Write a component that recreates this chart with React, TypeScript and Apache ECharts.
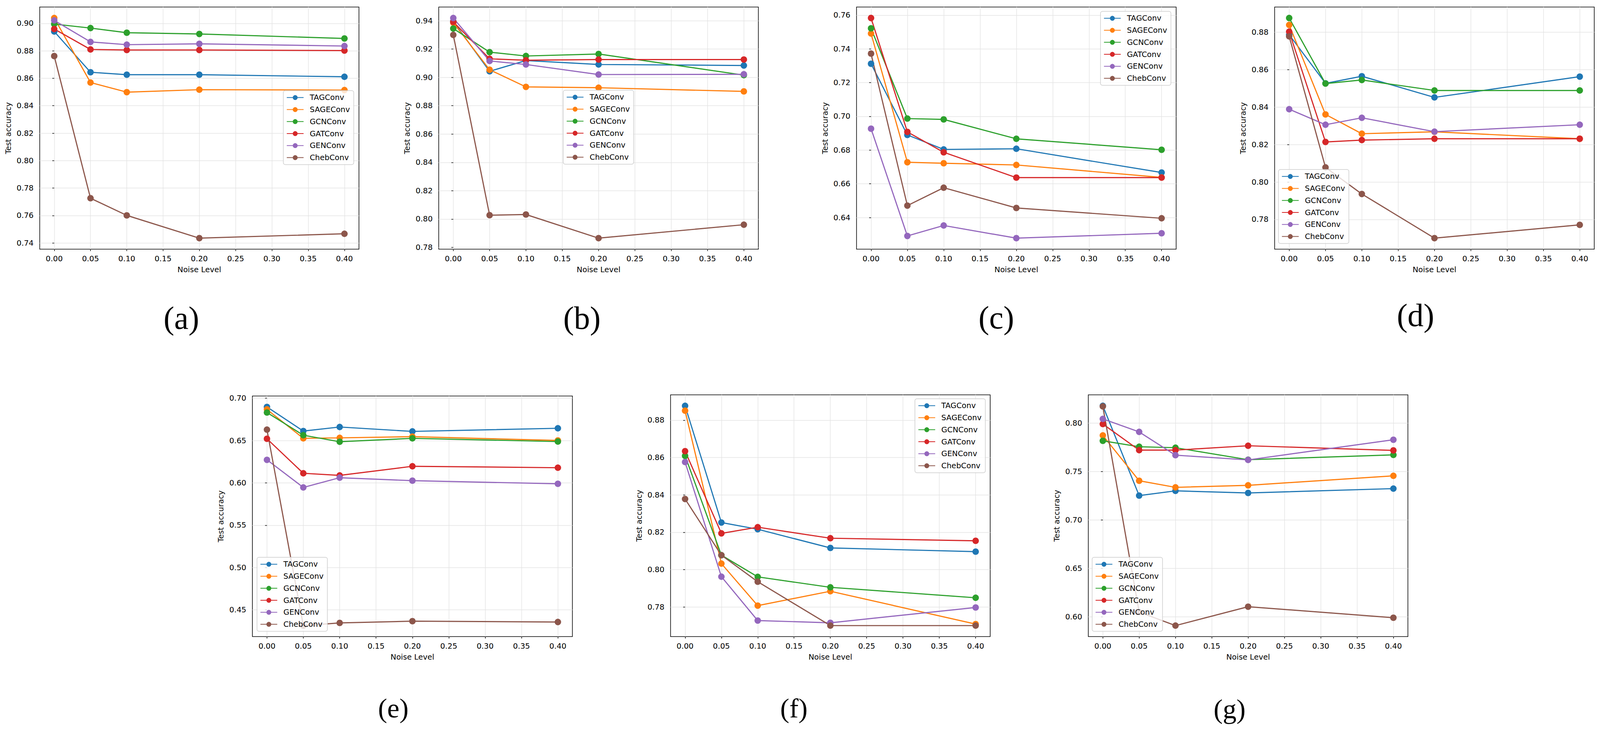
import React, { useEffect, useRef } from 'react';
import * as echarts from 'echarts';

const FONT = '"DejaVu Sans", sans-serif';
const SERIF = '"Liberation Serif", "Times New Roman", serif';

const models = ['TAGConv', 'SAGEConv', 'GCNConv', 'GATConv', 'GENConv', 'ChebConv'];
const colors = ['#1f77b4', '#ff7f0e', '#2ca02c', '#d62728', '#9467bd', '#8c564b'];
const noiseLevels = [0, 0.05, 0.1, 0.2, 0.4];
const noiseTicks = [0, 0.05, 0.1, 0.15, 0.2, 0.25, 0.3, 0.35, 0.4];

// one row per model, same order as `models`
const accA = [
  [0.8941, 0.8644, 0.8626, 0.8626, 0.8611],
  [0.9039, 0.8569, 0.8499, 0.8517, 0.8514],
  [0.8995, 0.8966, 0.8932, 0.8923, 0.889],
  [0.8959, 0.881, 0.8806, 0.8806, 0.8802],
  [0.9022, 0.8865, 0.8845, 0.8851, 0.8835],
  [0.8762, 0.7726, 0.7601, 0.7435, 0.7467],
];
const accB = [
  [0.9395, 0.9043, 0.9119, 0.9091, 0.9084],
  [0.9386, 0.9054, 0.8933, 0.8927, 0.8901],
  [0.9345, 0.9178, 0.9151, 0.9165, 0.9016],
  [0.9392, 0.9131, 0.9121, 0.9126, 0.9126],
  [0.9419, 0.9116, 0.9091, 0.902, 0.9022],
  [0.93, 0.8027, 0.8032, 0.7865, 0.796],
];
const accC = [
  [0.7312, 0.689, 0.6804, 0.6808, 0.6667],
  [0.7491, 0.6728, 0.6722, 0.6712, 0.6638],
  [0.7522, 0.6987, 0.6982, 0.6867, 0.6802],
  [0.7583, 0.6908, 0.6787, 0.6637, 0.6637],
  [0.6927, 0.6291, 0.6353, 0.6278, 0.6307],
  [0.7372, 0.6471, 0.6577, 0.6457, 0.6396],
];
const accD = [
  [0.8787, 0.8527, 0.8565, 0.8452, 0.8563],
  [0.8839, 0.8361, 0.8258, 0.8268, 0.8231],
  [0.8876, 0.8526, 0.8545, 0.8489, 0.8489],
  [0.8803, 0.8214, 0.8224, 0.8231, 0.8231],
  [0.8389, 0.8306, 0.8343, 0.8269, 0.8306],
  [0.8778, 0.8078, 0.7936, 0.77, 0.7771],
];
const accE = [
  [0.6897, 0.6612, 0.666, 0.6608, 0.6645],
  [0.6868, 0.6526, 0.6532, 0.6546, 0.6501],
  [0.6831, 0.6563, 0.6486, 0.6526, 0.6488],
  [0.6521, 0.6113, 0.6088, 0.6196, 0.6179],
  [0.6272, 0.5946, 0.6061, 0.6026, 0.5989],
  [0.6629, 0.4313, 0.4345, 0.4366, 0.4356],
];
const accF = [
  [0.8877, 0.8252, 0.8216, 0.8116, 0.8096],
  [0.8851, 0.8032, 0.7807, 0.7884, 0.7708],
  [0.8609, 0.8077, 0.7961, 0.7905, 0.7849],
  [0.8634, 0.8194, 0.8227, 0.8168, 0.8154],
  [0.8576, 0.7962, 0.7727, 0.7715, 0.7797],
  [0.8378, 0.8077, 0.7935, 0.77, 0.77],
];
const accG = [
  [0.8177, 0.7251, 0.73, 0.7278, 0.7323],
  [0.7872, 0.7404, 0.7336, 0.7357, 0.7455],
  [0.7816, 0.7755, 0.7745, 0.7621, 0.7671],
  [0.7989, 0.772, 0.772, 0.7765, 0.7717],
  [0.8042, 0.7908, 0.7668, 0.7619, 0.7827],
  [0.8171, 0.605, 0.591, 0.6105, 0.5991],
];

const ticksA = [0.74, 0.76, 0.78, 0.8, 0.82, 0.84, 0.86, 0.88, 0.9];
const ticksB = [0.78, 0.8, 0.82, 0.84, 0.86, 0.88, 0.9, 0.92, 0.94];
const ticksC = [0.64, 0.66, 0.68, 0.7, 0.72, 0.74, 0.76];
const ticksD = [0.78, 0.8, 0.82, 0.84, 0.86, 0.88];
const ticksE = [0.45, 0.5, 0.55, 0.6, 0.65, 0.7];
const ticksF = [0.78, 0.8, 0.82, 0.84, 0.86, 0.88];
const ticksG = [0.6, 0.65, 0.7, 0.75, 0.8];

// layout in reference pixels (4190 x 1882 page)
const panels = [
  { acc: accA, ticks: ticksA, tag: '(a)', grid: [104, 18, 836, 620], legend: [742, 232], tagPos: [475, 814, 84] },
  { acc: accB, ticks: ticksB, tag: '(b)', grid: [1149, 18, 837, 620], legend: [1475, 231], tagPos: [1524, 814, 84] },
  { acc: accC, ticks: ticksC, tag: '(c)', grid: [2243, 18, 837, 620], legend: [2882, 29], tagPos: [2609, 813, 84] },
  { acc: accD, ticks: ticksD, tag: '(d)', grid: [3338, 18, 837, 620], legend: [3348, 434], tagPos: [3707, 807, 84] },
  { acc: accE, ticks: ticksE, tag: '(e)', grid: [661, 1014, 838, 616], legend: [673, 1427], tagPos: [1030, 1813, 72] },
  { acc: accF, ticks: ticksF, tag: '(f)', grid: [1756, 1011, 837, 619], legend: [2396, 1021], tagPos: [2079, 1813, 72] },
  { acc: accG, ticks: ticksG, tag: '(g)', grid: [2850, 1011, 837, 619], legend: [2860, 1427], tagPos: [3220, 1815, 72] },
];

// matplotlib-style 5% margins around the data
const limits = (acc: number[][]) => {
  const all = acc.flat();
  const lo = Math.min(...all);
  const hi = Math.max(...all);
  const pad = (hi - lo) * 0.05;
  return [lo - pad, hi + pad];
};

const App: React.FC = () => {
  const chartRef = useRef<HTMLDivElement>(null);

  useEffect(() => {
    document.body.style.margin = '0';
    document.body.style.overflow = 'hidden';
    const el = chartRef.current!;
    // the viewport may be a bit smaller than the reference, so scale the layout to it
    const W = el.clientWidth || 4190;
    const H = el.clientHeight || 1882;
    const sx = W / 4190;
    const sy = H / 1882;
    const sf = Math.min(sx, sy);
    const X = (v: number) => v * sx;
    const Y = (v: number) => v * sy;
    const F = (v: number) => v * sf;

    const chart = echarts.init(el, null, { renderer: 'svg', width: W, height: H });

    const tickText = { fontSize: F(20), color: '#000', fontFamily: FONT };
    const gridLine = { show: true, lineStyle: { color: '#e4e4e4', width: F(1.5) } };
    const tickLine = { color: '#000', width: F(1.5) };

    const option = {
      animation: false,
      backgroundColor: '#ffffff',
      textStyle: { fontFamily: FONT },
      grid: panels.map((p) => ({
        left: X(p.grid[0]),
        top: Y(p.grid[1]),
        width: X(p.grid[2]),
        height: Y(p.grid[3]),
        show: true,
        borderColor: '#000',
        borderWidth: F(1.6),
        backgroundColor: 'transparent',
        containLabel: false,
        outerBoundsMode: 'none',
      })),
      xAxis: panels.map((p, i) => ({
        type: 'value',
        gridIndex: i,
        min: -0.02,
        max: 0.42,
        name: 'Noise Level',
        nameLocation: 'middle',
        nameGap: Y(42),
        nameTextStyle: tickText,
        axisLine: { show: false },
        axisTick: { show: true, length: Y(5), customValues: noiseTicks, lineStyle: tickLine },
        axisLabel: {
          customValues: noiseTicks,
          margin: Y(14),
          formatter: (v: number) => v.toFixed(2),
          ...tickText,
        },
        splitLine: gridLine,
      })),
      yAxis: panels.map((p, i) => {
        const [lo, hi] = limits(p.acc);
        return {
          type: 'value',
          gridIndex: i,
          min: lo,
          max: hi,
          name: 'Test accuracy',
          nameLocation: 'middle',
          nameGap: X(72),
          nameTextStyle: tickText,
          axisLine: { show: false },
          axisTick: { show: true, length: X(5), customValues: p.ticks, lineStyle: tickLine },
          axisLabel: {
            customValues: p.ticks,
            margin: X(16),
            formatter: (v: number) => v.toFixed(2),
            ...tickText,
          },
          splitLine: gridLine,
        };
      }),
      legend: panels.map((p) => ({
        data: models,
        orient: 'vertical',
        left: X(p.legend[0]),
        top: Y(p.legend[1]),
        itemWidth: F(44),
        itemHeight: F(16),
        itemGap: F(11),
        padding: [F(8), F(10), F(8), F(8)],
        backgroundColor: 'rgba(255,255,255,0.8)',
        borderColor: '#cccccc',
        borderWidth: F(1.5),
        borderRadius: F(5),
        selectedMode: false,
        formatter: '{gap|}{name}',
        textStyle: { ...tickText, rich: { gap: { width: F(11) } } },
      })),
      graphic: panels.map((p) => ({
        type: 'text',
        x: X(p.tagPos[0]),
        y: Y(p.tagPos[1]),
        style: {
          text: p.tag,
          fontSize: F(p.tagPos[2]),
          fontFamily: SERIF,
          fill: '#000',
          align: 'center',
          verticalAlign: 'middle',
          textAlign: 'center',
          textVerticalAlign: 'middle',
        },
      })),
      series: panels.flatMap((p, pi) =>
        models.map((m, k) => ({
          name: m,
          type: 'line',
          xAxisIndex: pi,
          yAxisIndex: pi,
          data: noiseLevels.map((x, i) => [x, p.acc[k][i]]),
          symbol: 'circle',
          symbolSize: F(17),
          showSymbol: true,
          color: colors[k],
          itemStyle: { color: colors[k] },
          lineStyle: { width: F(3), color: colors[k] },
          emphasis: { disabled: true },
        }))
      ),
    };

    chart.setOption(option as any);

    return () => {
      chart.dispose();
    };
  }, []);

  return (
    <div
      ref={chartRef}
      style={{ position: 'fixed', left: 0, top: 0, width: '100vw', height: '100vh', background: '#fff' }}
    />
  );
};

export default App;
